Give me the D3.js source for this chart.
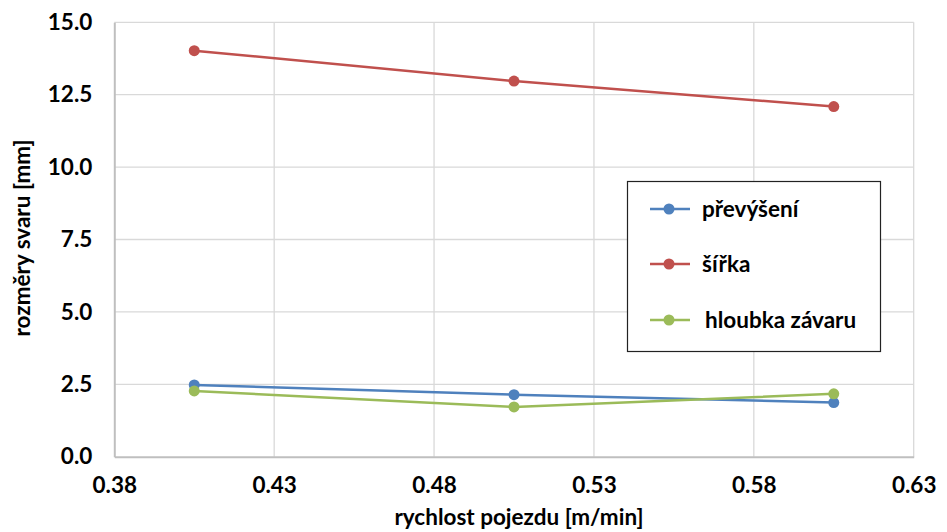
<!DOCTYPE html>
<html><head><meta charset="utf-8">
<script src="https://cdn.jsdelivr.net/npm/d3@7"></script>
<style>
html,body{margin:0;padding:0;background:#fff;}
svg{display:block;font-family:Lato,"Open Sans",sans-serif;}
</style></head>
<body>
<svg id="chart" width="947" height="532"></svg>
<script>
const speeds = [0.4, 0.5, 0.6];
const prevyseni = [2.48, 2.14, 1.87];
const sirka = [14.02, 12.97, 12.09];
const hloubka = [2.27, 1.72, 2.17];
const seriesNames = ["převýšení", "šířka", "hloubka závaru"];
const seriesColors = ["#4F81BD", "#C0504D", "#9BBB59"];
const xTickValues = [0.375, 0.425, 0.475, 0.525, 0.575, 0.625];
const xTickLabels = ["0.38", "0.43", "0.48", "0.53", "0.58", "0.63"];
const yTickValues = [0, 2.5, 5, 7.5, 10, 12.5, 15];
const yTickLabels = ["0.0", "2.5", "5.0", "7.5", "10.0", "12.5", "15.0"];
const xTitle = "rychlost pojezdu [m/min]";
const yTitle = "rozměry svaru [mm]";

const FS = 22.5;
const svg = d3.select("#chart");
const pL = 114.3, pR = 913.7, pT = 22.3, pB = 456.7;
const x = d3.scaleLinear().domain([0.375, 0.625]).range([pL, pR]);
const y = d3.scaleLinear().domain([0, 15]).range([pB, pT]);

// gridlines
const grid = svg.append("g");
grid.selectAll("line.h").data(yTickValues.slice(1)).join("line")
  .attr("x1", pL).attr("x2", pR)
  .attr("y1", d => y(d)).attr("y2", d => y(d))
  .attr("stroke", "#D9D9D9").attr("stroke-width", 1.3);
grid.selectAll("line.v").data(xTickValues.slice(1)).join("line")
  .attr("x1", d => x(d)).attr("x2", d => x(d))
  .attr("y1", pT).attr("y2", pB)
  .attr("stroke", "#D9D9D9").attr("stroke-width", 1.3);

// axes
const xAxis = d3.axisBottom(x).tickValues(xTickValues)
  .tickFormat((d, i) => xTickLabels[i]).tickSize(0).tickPadding(20);
const gx = svg.append("g").attr("transform", `translate(0,${pB})`).call(xAxis);
gx.select(".domain").attr("stroke", "#BFBFBF").attr("stroke-width", 2);
gx.selectAll("text").attr("font-size", FS).attr("font-weight", "bold").attr("fill", "#000")
  .attr("font-family", "Lato, 'Open Sans', sans-serif");

const yAxis = d3.axisLeft(y).tickValues(yTickValues)
  .tickFormat((d, i) => yTickLabels[i]).tickSize(0).tickPadding(22);
const gy = svg.append("g").attr("transform", `translate(${pL},0)`).call(yAxis);
gy.select(".domain").attr("stroke", "#BFBFBF").attr("stroke-width", 2);
gy.selectAll("text").attr("font-size", FS).attr("font-weight", "bold").attr("fill", "#000")
  .attr("font-family", "Lato, 'Open Sans', sans-serif");

// titles
svg.append("text").attr("x", 519).attr("y", 525)
  .attr("text-anchor", "middle").attr("font-size", FS).attr("font-weight", "bold")
  .text(xTitle);
svg.append("text").attr("transform", `translate(30,238) rotate(-90)`)
  .attr("text-anchor", "middle").attr("font-size", FS).attr("font-weight", "bold")
  .text(yTitle);

// series
const allSeries = [prevyseni, sirka, hloubka];
const line = d3.line().x((d, i) => x(speeds[i])).y(d => y(d));
allSeries.forEach((vals, s) => {
  const g = svg.append("g");
  g.append("path").datum(vals).attr("d", line)
    .attr("fill", "none").attr("stroke", seriesColors[s]).attr("stroke-width", 2.5);
  g.selectAll("circle").data(vals).join("circle")
    .attr("cx", (d, i) => x(speeds[i])).attr("cy", d => y(d)).attr("r", 5.5)
    .attr("fill", seriesColors[s]);
});

// legend
const lg = svg.append("g");
lg.append("rect").attr("x", 627.5).attr("y", 181.5).attr("width", 253).attr("height", 170)
  .attr("fill", "#fff").attr("stroke", "#222").attr("stroke-width", 1.2);
const rowsY = [209, 264, 320];
seriesNames.forEach((name, i) => {
  lg.append("line").attr("x1", 650).attr("x2", 690).attr("y1", rowsY[i]).attr("y2", rowsY[i])
    .attr("stroke", seriesColors[i]).attr("stroke-width", 2.5);
  lg.append("circle").attr("cx", 669).attr("cy", rowsY[i]).attr("r", 5.5).attr("fill", seriesColors[i]);
  lg.append("text").attr("x", i === 2 ? 705 : 702).attr("y", rowsY[i]).attr("dy", "0.35em")
    .attr("font-size", FS).attr("font-weight", "bold").text(name);
});
</script>
</body></html>
